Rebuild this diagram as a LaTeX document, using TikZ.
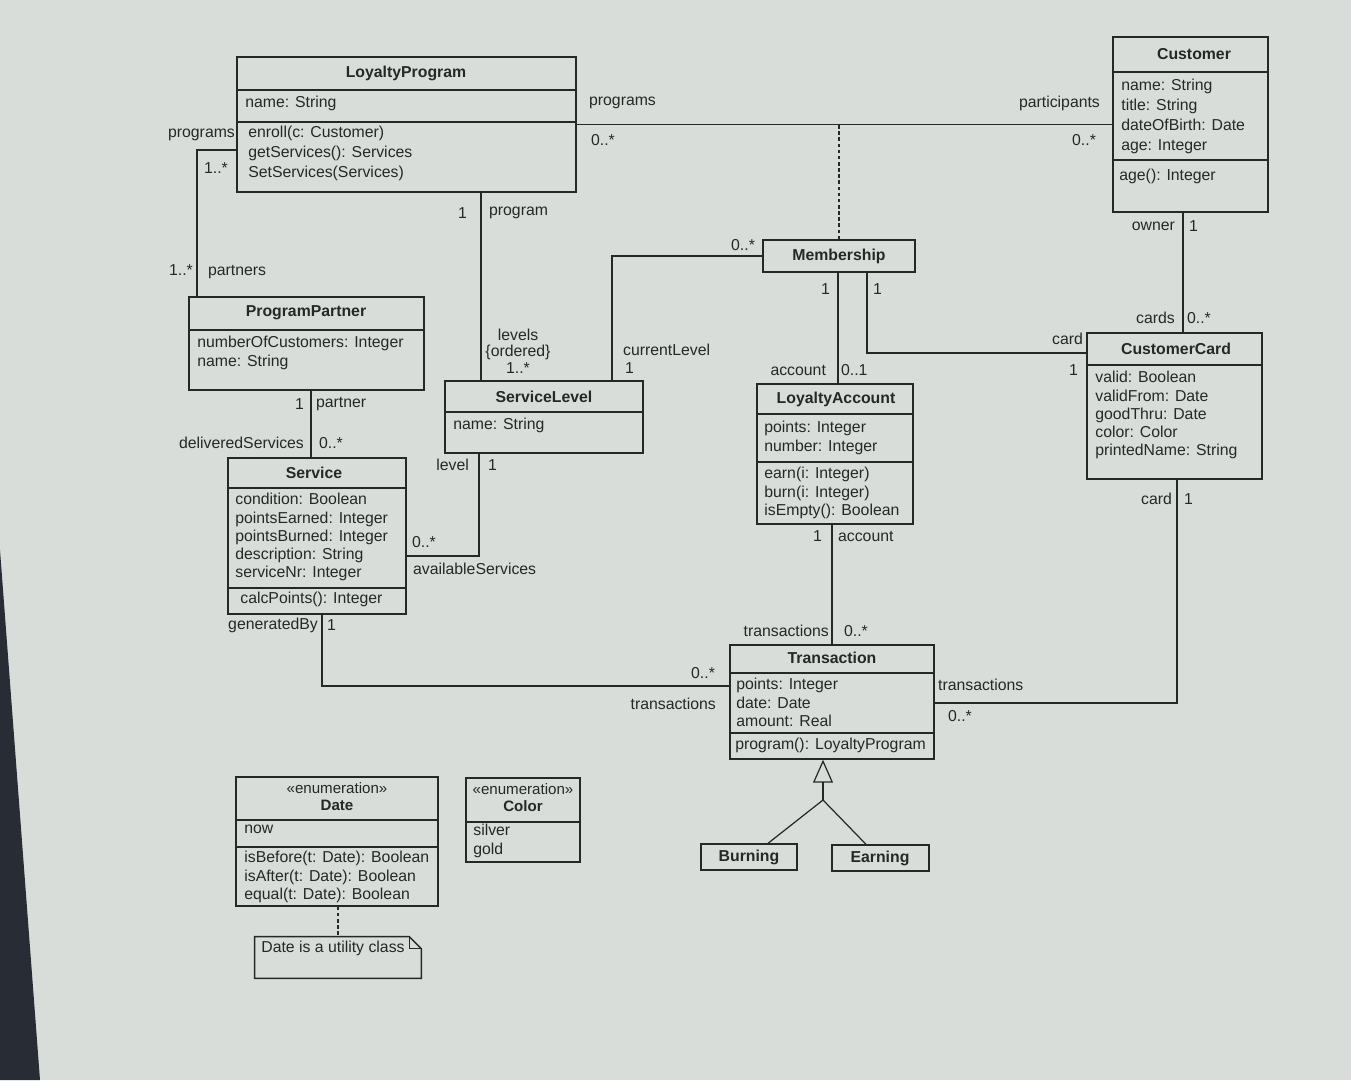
\documentclass[tikz,border=0pt]{standalone}
\usepackage{fontspec}
\setmainfont{Liberation Sans}
\usepackage{tikz}
\usetikzlibrary{
    arrows.meta,
    positioning,
    fit,
    calc
}
\definecolor{screen}{RGB}{217,221,217}
\definecolor{ink}{RGB}{38,40,40}
\definecolor{bezel}{RGB}{40,44,52}

\begin{document}
\begin{tikzpicture}[
            x=0.02cm, y=-0.02cm,
            font=\fontsize{9}{10.4}\selectfont,
            cls/.style={draw=ink, inner sep=0pt, line width=0.8pt},
            ttl/.style={font=\fontsize{9}{10.4}\selectfont\bfseries, text=ink, inner sep=0pt},
            stereo/.style={font=\fontsize{8.6}{9.6}\selectfont, text=ink, align=center, inner sep=0pt},
            attr/.style={align=left, anchor=north west, inner sep=0pt, text=ink},
            wide/.style={font=\fontsize{9}{11.3}\selectfont},
            lbl/.style={inner sep=1pt, text=ink},
            assoc/.style={draw=ink, line width=0.7pt},
            dep/.style={draw=ink, line width=0.6pt, dash pattern=on 2pt off 1.5pt},
            gen/.style={draw=ink, line width=0.7pt, -{Triangle[open, length=4.6mm, width=4mm]}}
        ]
            % ====== Screen ======
            \fill[screen] (0,0) rectangle (1351,1080);
            \fill[bezel] (0,550) -- (40,1080) -- (0,1080) -- cycle;
            \useasboundingbox (0,0) rectangle (1351,1080);

            % ====== Classes ======
            \node[cls, fit={(237,57) (576,192)}] (lp) {};
            \draw[ink, line width=0.8pt] (237,90) -- (576,90) (237,122) -- (576,122);
            \node[ttl] (lp-name) at (406,73) {LoyaltyProgram};
            \node[attr] (lp-attr) at (245,96) {name: String};
            \node[attr, wide] (lp-ops) at (248,126) {enroll(c: Customer)\\getServices(): Services\\SetServices(Services)};

            \node[cls, fit={(1113,37) (1268,212)}] (cust) {};
            \draw[ink, line width=0.8pt] (1113,72) -- (1268,72) (1113,160) -- (1268,160);
            \node[ttl] (cust-name) at (1194,54) {Customer};
            \node[attr, wide] (cust-attr) at (1121,79) {name: String\\title: String\\dateOfBirth: Date\\age: Integer};
            \node[attr] (cust-ops) at (1119,169) {age(): Integer};

            \node[cls, fit={(763,240) (915,272)}] (mem) {};
            \node[ttl] (mem-name) at (839,256) {Membership};

            \node[cls, fit={(189,297) (424,390)}] (pp) {};
            \draw[ink, line width=0.8pt] (189,330) -- (424,330);
            \node[ttl] (pp-name) at (306,313) {ProgramPartner};
            \node[attr] (pp-attr) at (197,336) {numberOfCustomers: Integer\\name: String};

            \node[cls, fit={(445,381) (643,453)}] (sl) {};
            \draw[ink, line width=0.8pt] (445,412) -- (643,412);
            \node[ttl] (sl-name) at (544,397) {ServiceLevel};
            \node[attr] (sl-attr) at (453,418) {name: String};

            \node[cls, fit={(757,384) (913,524)}] (la) {};
            \draw[ink, line width=0.8pt] (757,414) -- (913,414) (757,462) -- (913,462);
            \node[ttl] (la-name) at (836,399) {LoyaltyAccount};
            \node[attr] (la-attr) at (764,421) {points: Integer\\number: Integer};
            \node[attr] (la-ops) at (764,467) {earn(i: Integer)\\burn(i: Integer)\\isEmpty(): Boolean};

            \node[cls, fit={(1087,333) (1262,479)}] (cc) {};
            \draw[ink, line width=0.8pt] (1087,365) -- (1262,365);
            \node[ttl] (cc-name) at (1176,349) {CustomerCard};
            \node[attr] (cc-attr) at (1095,371) {valid: Boolean\\validFrom: Date\\goodThru: Date\\color: Color\\printedName: String};

            \node[cls, fit={(228,458) (406,614)}] (svc) {};
            \draw[ink, line width=0.8pt] (228,488) -- (406,488) (228,588) -- (406,588);
            \node[ttl] (svc-name) at (314,473) {Service};
            \node[attr] (svc-attr) at (235,493) {condition: Boolean\\pointsEarned: Integer\\pointsBurned: Integer\\description: String\\serviceNr: Integer};
            \node[attr] (svc-ops) at (240,592) {calcPoints(): Integer};

            \node[cls, fit={(730,645) (934,759)}] (tr) {};
            \draw[ink, line width=0.8pt] (730,673) -- (934,673) (730,733) -- (934,733);
            \node[ttl] (tr-name) at (832,658) {Transaction};
            \node[attr] (tr-attr) at (736,678) {points: Integer\\date: Date\\amount: Real};
            \node[attr] (tr-ops) at (735,738) {program(): LoyaltyProgram};

            \node[cls, fit={(701,844) (797,870)}] (burn) {};
            \node[ttl] (burn-name) at (749,857) {Burning};
            \node[cls, fit={(832,845) (929,871)}] (earn) {};
            \node[ttl] (earn-name) at (880,858) {Earning};

            % ====== Enumerations ======
            \node[cls, fit={(236,777) (438,906)}] (date) {};
            \draw[ink, line width=0.8pt] (236,820) -- (438,820) (236,847) -- (438,847);
            \node[stereo] (date-name) at (337,797) {«enumeration»\\\textbf{Date}};
            \node[attr] (date-attr) at (244,825) {now};
            \node[attr] (date-ops) at (244,851) {isBefore(t: Date): Boolean\\isAfter(t: Date): Boolean\\equal(t: Date): Boolean};

            \node[cls, fit={(466,778) (580,862)}] (col) {};
            \draw[ink, line width=0.8pt] (466,822) -- (580,822);
            \node[stereo] (col-name) at (523,798) {«enumeration»\\\textbf{Color}};
            \node[attr] (col-attr) at (473,824) {silver\\gold};

            \node[inner sep=0pt, fit={(255,937) (421,978)}] (note) {};
            \draw[ink, line width=0.8pt] (note.south west) -- (note.north west) -- ($(note.north east)+(-12,0)$)
                -- ($(note.north east)+(0,12)$) -- (note.south east) -- cycle;
            \draw[ink, line width=0.8pt] ($(note.north east)+(-12,0)$) -- ($(note.north east)+(-12,12)$) -- ($(note.north east)+(0,12)$);
            \node[attr] (note-text) at (261,941) {Date is a utility class};

            % ====== Connector points ======
            \coordinate (at-pgm) at (197,150);
            \coordinate (at-levels) at (481,0);
            \coordinate (at-cur) at (612,0);
            \coordinate (at-acc) at (838,0);
            \coordinate (at-card) at (867,353);
            \coordinate (at-own) at (1183,0);
            \coordinate (at-part) at (311,0);
            \coordinate (at-avail) at (479,556);
            \coordinate (at-trans) at (832,0);
            \coordinate (at-gen) at (322,686);
            \coordinate (at-cct) at (1177,703);
            \coordinate (at-join) at (823,800);
            \coordinate (at-burn) at (768,0);
            \coordinate (at-earn) at (866,0);
            \coordinate (at-note) at (338,0);

            % ====== Associations ======
            \draw[assoc] (lp.east) -- (cust.west);
            \draw[dep] (mem.north) -- (mem.north |- lp.east);
            \draw[assoc] (lp.west |- at-pgm) -| (pp.north -| at-pgm);
            \draw[assoc] (lp.south -| at-levels) -- (sl.north -| at-levels);
            \draw[assoc] (mem.west) -| (sl.north -| at-cur);
            \draw[assoc] (mem.south -| at-acc) -- (la.north -| at-acc);
            \draw[assoc] (mem.south -| at-card) |- (cc.west |- at-card);
            \draw[assoc] (cust.south -| at-own) -- (cc.north -| at-own);
            \draw[assoc] (pp.south -| at-part) -- (svc.north -| at-part);
            \draw[assoc] (sl.south -| at-avail) |- (svc.east |- at-avail);
            \draw[assoc] (la.south -| at-trans) -- (tr.north -| at-trans);
            \draw[assoc] (svc.south -| at-gen) |- (tr.west |- at-gen);
            \draw[assoc] (cc.south -| at-cct) |- (tr.east |- at-cct);

            % ====== Generalisation and note link ======
            \draw[assoc] (burn.north -| at-burn) -- (at-join);
            \draw[assoc] (earn.north -| at-earn) -- (at-join);
            \draw[gen] (at-join) -- (tr.south -| at-join);
            \draw[dep] (date.south -| at-note) -- (note.north -| at-note);

            % ====== Role names and multiplicities ======
            \node[lbl, anchor=west] (r-programs) at (587,103) {programs};
            \node[lbl, anchor=west] (m-programs) at (589,140) {0..*};
            \node[lbl, anchor=east] (r-participants) at (1102,103) {participants};
            \node[lbl, anchor=east] (m-participants) at (1098,140) {0..*};

            \node[lbl, anchor=east] (r-lp-programs) at (237,135) {programs};
            \node[lbl, anchor=west] (m-lp-programs) at (202,168) {1..*};
            \node[lbl, anchor=east] (m-partners) at (195,270) {1..*};
            \node[lbl, anchor=west] (r-partners) at (206,272) {partners};

            \node[lbl, anchor=east] (m-program) at (469,213) {1};
            \node[lbl, anchor=west] (r-program) at (487,213) {program};
            \node[lbl, align=center, font=\fontsize{9}{9.4}\selectfont] (r-levels) at (518,351) {levels\\\{ordered\}\\1..*};

            \node[lbl, anchor=east] (m-mem-cur) at (757,245) {0..*};
            \node[lbl, anchor=west] (r-cur) at (621,350) {currentLevel};
            \node[lbl, anchor=west] (m-cur) at (623,368) {1};

            \node[lbl, anchor=east] (m-mem-acc) at (832,289) {1};
            \node[lbl, anchor=west] (m-mem-card) at (871,289) {1};
            \node[lbl, anchor=east] (r-account) at (828,370) {account};
            \node[lbl, anchor=west] (m-account) at (839,370) {0..1};
            \node[lbl, anchor=east] (r-card) at (1085,339) {card};
            \node[lbl, anchor=east] (m-card) at (1080,370) {1};

            \node[lbl, anchor=east] (r-owner) at (1177,226) {owner};
            \node[lbl, anchor=west] (m-owner) at (1187,226) {1};
            \node[lbl, anchor=east] (r-cards) at (1177,318) {cards};
            \node[lbl, anchor=west] (m-cards) at (1185,318) {0..*};

            \node[lbl, anchor=east] (m-partner) at (306,404) {1};
            \node[lbl, anchor=west] (r-partner) at (314,404) {partner};
            \node[lbl, anchor=east] (r-delivered) at (306,443) {deliveredServices};
            \node[lbl, anchor=west] (m-delivered) at (317,443) {0..*};

            \node[lbl, anchor=east] (r-level) at (471,465) {level};
            \node[lbl, anchor=west] (m-level) at (486,465) {1};
            \node[lbl, anchor=west] (m-avail) at (410,542) {0..*};
            \node[lbl, anchor=west] (r-avail) at (411,569) {availableServices};

            \node[lbl, anchor=east] (m-la-acc) at (824,536) {1};
            \node[lbl, anchor=west] (r-la-acc) at (836,536) {account};
            \node[lbl, anchor=east] (r-la-trans) at (831,631) {transactions};
            \node[lbl, anchor=west] (m-la-trans) at (842,631) {0..*};

            \node[lbl, anchor=east] (r-gen) at (320,625) {generatedBy};
            \node[lbl, anchor=west] (m-gen) at (325,625) {1};
            \node[lbl, anchor=east] (m-svc-trans) at (717,673) {0..*};
            \node[lbl, anchor=east] (r-svc-trans) at (718,704) {transactions};

            \node[lbl, anchor=east] (r-cc-card) at (1174,499) {card};
            \node[lbl, anchor=west] (m-cc-card) at (1182,499) {1};
            \node[lbl, anchor=west] (r-cc-trans) at (936,685) {transactions};
            \node[lbl, anchor=west] (m-cc-trans) at (946,716) {0..*};
        \end{tikzpicture}
\end{document}
